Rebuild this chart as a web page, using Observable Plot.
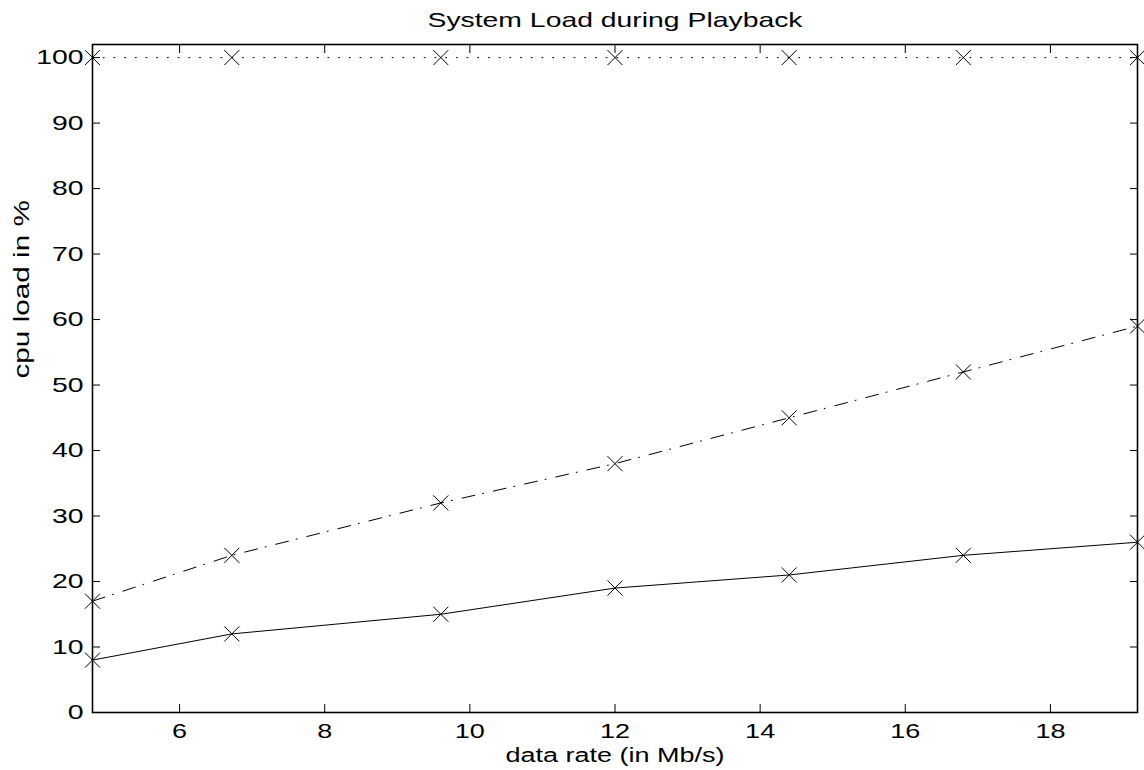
<!DOCTYPE html>
<html><head><meta charset="utf-8">
<script src="https://cdn.jsdelivr.net/npm/d3@7"></script>
<script src="https://cdn.jsdelivr.net/npm/@observablehq/plot@0.6"></script>
<style>
body{margin:0;background:#fff}
svg{font-family:"Liberation Sans",Arial,Helvetica,sans-serif}
</style>
</head><body><div id="chart"></div>
<script>
// ---- data ----
const rate = [4.8, 6.72, 9.6, 12, 14.4, 16.8, 19.2];
const loadDotted = [100, 100, 100, 100, 100, 100, 100];
const loadDashDot = [17, 24, 32, 38, 45, 52, 59];
const loadSolid = [8, 12, 15, 19, 21, 24, 26];
const xTicks = [6, 8, 10, 12, 14, 16, 18];
const yTicks = [0, 10, 20, 30, 40, 50, 60, 70, 80, 90, 100];
const titleText = "System Load during Playback";
const xLabelText = "data rate (in Mb/s)";
const yLabelText = "cpu load in %";

const toRows = (vals) => rate.map((r, i) => ({rate: r, load: vals[i]}));
const rowsDotted = toRows(loadDotted);
const rowsDashDot = toRows(loadDashDot);
const rowsSolid = toRows(loadSolid);
const allRows = [...rowsDotted, ...rowsDashDot, ...rowsSolid];

const chart = Plot.plot({
  width: 1144,
  height: 770,
  marginLeft: 92,
  marginRight: 7,
  marginTop: 44,
  marginBottom: 58,
  style: {fontFamily: '"Liberation Sans", Arial, Helvetica, sans-serif', background: "#fff"},
  x: {domain: [4.8, 19.2], label: null},
  y: {domain: [0, 102], label: null},
  marks: [
    Plot.line(rowsDotted, {x: "rate", y: "load", stroke: "black", strokeWidth: 1, strokeDasharray: "1,9.7"}),
    Plot.line(rowsDashDot, {x: "rate", y: "load", stroke: "black", strokeWidth: 1, strokeDasharray: "13,8,1,10"}),
    Plot.line(rowsSolid, {x: "rate", y: "load", stroke: "black", strokeWidth: 1}),
    Plot.dot(allRows, {x: "rate", y: "load", symbol: "times", r: 6.9, stroke: "black", strokeWidth: 1}),
    Plot.frame({stroke: "black", strokeWidth: 1.6}),
    Plot.axisX(xTicks, {anchor: "bottom", tickSize: -8, tickPadding: 19, fontSize: 20, label: null}),
    Plot.axisX(xTicks, {anchor: "top", tickSize: -8, tickFormat: () => "", label: null}),
    Plot.axisY(yTicks, {anchor: "left", tickSize: -8, tickPadding: 17, fontSize: 21, label: null}),
    Plot.axisY(yTicks, {anchor: "right", tickSize: -8, tickFormat: () => "", label: null}),
    Plot.text([titleText], {frameAnchor: "top", lineAnchor: "bottom", dy: -18, fontSize: 21, fill: "black"}),
    Plot.text([xLabelText], {frameAnchor: "bottom", lineAnchor: "bottom", dy: 49, fontSize: 20, fill: "black"}),
    Plot.text([yLabelText], {frameAnchor: "left", rotate: -90, dx: -71, fontSize: 22, fill: "black", ariaLabel: "ylabel"})
  ]
});
document.getElementById("chart").appendChild(chart);

// horizontal stretch of text, as in the reference rendering
chart.querySelectorAll("text").forEach(t => {
  if (t.closest('[aria-label="ylabel"]')) return;
  const w = t.getComputedTextLength();
  if (w > 0) {
    t.setAttribute("textLength", (w * 1.35).toFixed(2));
    t.setAttribute("lengthAdjust", "spacingAndGlyphs");
  }
});
</script>
</body></html>
